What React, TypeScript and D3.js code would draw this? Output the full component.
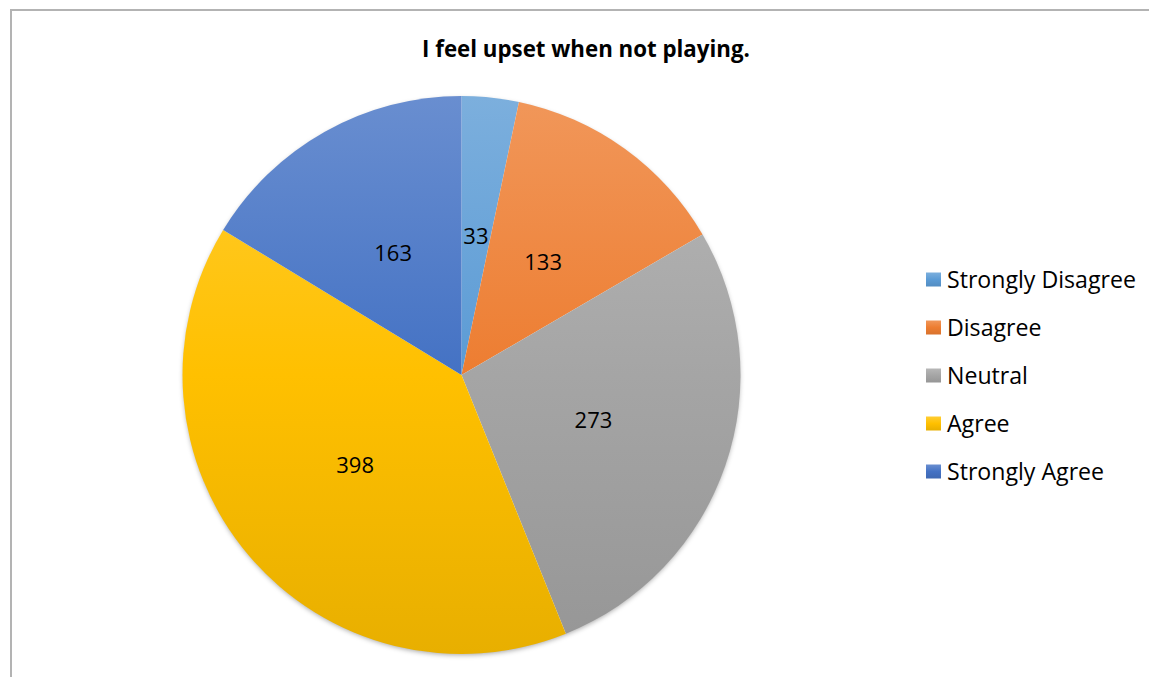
import React, { useEffect, useRef } from "react";
import * as d3 from "d3";

const categories = ["Strongly Disagree", "Disagree", "Neutral", "Agree", "Strongly Agree"];
const values = [33, 133, 273, 398, 163];
const colors = ["#5B9BD5", "#ED7D31", "#A5A5A5", "#FFC000", "#4472C4"];
const title = "I feel upset when not playing.";

const W = 1149;
const H = 677;
const CX = 461.5;
const CY = 375;
const R = 279;
const FONT = "'Open Sans', sans-serif";

function addGrad(defs: any, id: string, c: string, user: boolean) {
  const g = defs.append("linearGradient").attr("id", id).attr("x1", 0).attr("x2", 0);
  if (user) {
    g.attr("gradientUnits", "userSpaceOnUse").attr("y1", -R).attr("y2", R);
  } else {
    g.attr("y1", 0).attr("y2", 1);
  }
  g.append("stop").attr("offset", "0%").attr("stop-color", d3.interpolateRgb(c, "#ffffff")(0.2));
  g.append("stop").attr("offset", "50%").attr("stop-color", c);
  g.append("stop").attr("offset", "100%").attr("stop-color", d3.interpolateRgb(c, "#000000")(0.09));
}

function fitWidth(sel: any, target: number) {
  const node = sel.node() as SVGTextElement;
  const w = node.getComputedTextLength();
  const fs = parseFloat(sel.attr("font-size"));
  return w > 0 ? (fs * target) / w : fs;
}

export default function App() {
  const ref = useRef<SVGSVGElement>(null);
  useEffect(() => {
    const svg = d3.select(ref.current);
    svg.selectAll("*").remove();
    const defs = svg.append("defs");

    colors.forEach((c, i) => {
      addGrad(defs, "grad" + i, c, true);
      addGrad(defs, "legGrad" + i, c, false);
    });

    const f = defs.append("filter").attr("id", "shadow").attr("x", "-10%").attr("y", "-10%").attr("width", "120%").attr("height", "120%");
    f.append("feDropShadow")
      .attr("dx", 0)
      .attr("dy", 2)
      .attr("stdDeviation", 2.5)
      .attr("flood-color", "#000")
      .attr("flood-opacity", 0.35);

    // border
    svg
      .append("path")
      .attr("d", `M11,${H} L11,10 L${W},10`)
      .attr("fill", "none")
      .attr("stroke", "#b3b3b3")
      .attr("stroke-width", 2);

    const t = svg
      .append("text")
      .attr("x", 586)
      .attr("y", 57)
      .attr("text-anchor", "middle")
      .attr("font-family", FONT)
      .attr("font-weight", "bold")
      .attr("font-size", 20)
      .attr("fill", "#000")
      .text(title);
    t.attr("font-size", fitWidth(t, 328));

    const pie = d3.pie<number>().sort(null).value((d) => d);
    const arcs = pie(values);
    const arc = d3.arc<d3.PieArcDatum<number>>().innerRadius(0).outerRadius(R);
    const labelArc = d3.arc<d3.PieArcDatum<number>>().innerRadius(R / 2).outerRadius(R / 2);

    const g = svg.append("g").attr("transform", `translate(${CX},${CY})`);
    g.append("circle").attr("r", R - 1).attr("fill", "#fff").attr("filter", "url(#shadow)");
    g.selectAll("path.slice")
      .data(arcs)
      .enter()
      .append("path")
      .attr("class", "slice")
      .attr("d", arc)
      .attr("fill", (_d, i) => `url(#grad${i})`);

    g.selectAll("text.lbl")
      .data(arcs)
      .enter()
      .append("text")
      .attr("class", "lbl")
      .attr("transform", (d) => {
        const [x, y] = labelArc.centroid(d);
        return `translate(${x},${y})`;
      })
      .attr("text-anchor", "middle")
      .attr("dy", "0.36em")
      .attr("font-family", FONT)
      .attr("font-size", 22)
      .attr("fill", "#000")
      .text((d) => String(d.data));

    const leg = svg.append("g");
    const texts: any[] = [];
    categories.forEach((c, i) => {
      const y = 279.5 + i * 48;
      leg
        .append("rect")
        .attr("x", 926)
        .attr("y", y - 7)
        .attr("width", 15)
        .attr("height", 14)
        .attr("fill", `url(#legGrad${i})`);
      texts.push(
        leg
          .append("text")
          .attr("x", 947)
          .attr("y", y)
          .attr("dy", "0.36em")
          .attr("font-family", FONT)
          .attr("font-size", 22)
          .attr("fill", "#000")
          .text(c)
      );
    });
    const lfs = fitWidth(texts[0], 189);
    texts.forEach((tx) => tx.attr("font-size", lfs));
  }, []);

  return (
    <svg
      ref={ref}
      width={W}
      height={H}
      style={{ position: "fixed", left: 0, top: 0, background: "#fff" }}
    />
  );
}
